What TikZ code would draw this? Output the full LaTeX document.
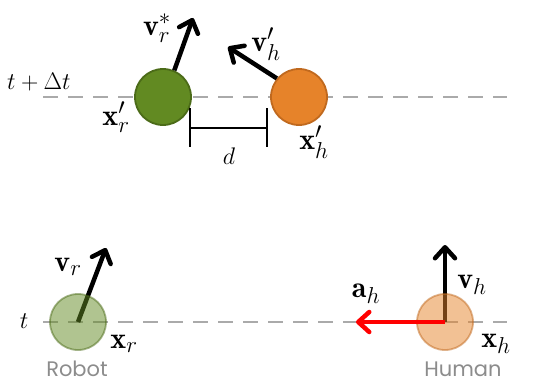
\documentclass[tikz,border=0pt]{standalone}
\usepackage{fix-cm}
\usepackage{fontspec}
\usepackage{amsmath}
\newfontfamily\labelfont{Poppins}
\DeclareMathSizes{30}{30}{23}{18}
\DeclareMathSizes{24}{24}{18}{14}
\usetikzlibrary{arrows.meta}
\definecolor{gdark}{HTML}{628A22}
\definecolor{gedge}{HTML}{4B6B18}
\definecolor{odark}{HTML}{E6832A}
\definecolor{oedge}{HTML}{C0691E}
\definecolor{dashgray}{HTML}{AAAAAA}
\definecolor{txtgray}{HTML}{8C8C8C}
\tikzset{
  timeline/.style={draw=dashgray, line width=2.5pt, dash pattern=on 15pt off 10pt},
  vel/.style={draw=black, line width=4.5pt, -{Straight Barb[length=11pt,width=20pt,line width=4.5pt,round]}},
  acc/.style={draw=red, line width=4.5pt, -{Straight Barb[length=11pt,width=20pt,line width=4.5pt,round]}},
  agent/.style={circle, minimum size=56pt, inner sep=0pt, line width=1.8pt},
  lbl/.style={font=\fontsize{30}{32}\selectfont, inner sep=0pt},
  tlbl/.style={font=\fontsize{24}{26}\selectfont, inner sep=0pt},
  who/.style={font=\labelfont\fontsize{21}{24}\selectfont, text=txtgray, inner sep=0pt},
  bracket/.style={draw=black, line width=2.8pt}
}
\begin{document}
\begin{tikzpicture}[x=1pt,y=-1pt]
\useasboundingbox (0,0) rectangle (534,385);
% top time line
\coordinate (tl1) at (43,97);
\coordinate (tl2) at (507,97);
\draw[timeline] (tl1) -- (tl2);
\node[tlbl, anchor=west] (tlab) at (7,82) {$t+\Delta t$};
% top agents
\node[agent, fill=gdark, draw=gedge] (gr) at (163,97) {};
\node[agent, fill=odark, draw=oedge] (oh) at (299,97) {};
\coordinate (vrs) at (193,18);
\coordinate (vhp) at (228,47);
\draw[vel] (gr.67) -- (vrs);
\draw[vel] (oh.140) -- (vhp);
\node[lbl] (vrslab) at (157,28) {$\mathbf{v}_r^{*}$};
\node[lbl] (vhplab) at (266,44) {$\mathbf{v}_h'$};
\node[lbl] (xrplab) at (116,117) {$\mathbf{x}_r'$};
\node[lbl] (xhplab) at (314,142) {$\mathbf{x}_h'$};
% distance bracket
\coordinate (b1t) at (190,108);
\coordinate (b1b) at (190,147);
\coordinate (b2t) at (267,108);
\coordinate (b2b) at (267,147);
\coordinate (b1m) at (190,128);
\coordinate (b2m) at (267,128);
\draw[bracket] (b1t) -- (b1b);
\draw[bracket] (b2t) -- (b2b);
\draw[bracket] (b1m) -- (b2m);
\node[tlbl] (dlab) at (229,156) {$d$};
% bottom time line
\coordinate (bl1) at (43,322);
\coordinate (bl2) at (507,322);
\draw[timeline] (bl1) -- (bl2);
\node[tlbl] (tb) at (24,321) {$t$};
% bottom agents
\coordinate (rc) at (78,322);
\coordinate (hc) at (445,322);
\coordinate (vr) at (106,248);
\coordinate (vh) at (445,245);
\coordinate (ah) at (356,322);
\draw[vel] (rc) -- (vr);
\draw[vel] (hc) -- (vh);
\node[agent, fill=gdark, draw=gedge, opacity=0.5] (rob) at (rc) {};
\node[agent, fill=odark, draw=oedge, opacity=0.5] (hum) at (hc) {};
\draw[acc] (hum.center) -- (ah);
\node[lbl] (vrlab) at (68,267) {$\mathbf{v}_r$};
\node[lbl] (xrlab) at (124,344) {$\mathbf{x}_r$};
\node[lbl] (ahlab) at (366,294) {$\mathbf{a}_h$};
\node[lbl] (vhlab) at (472,285) {$\mathbf{v}_h$};
\node[lbl] (xhlab) at (496,344) {$\mathbf{x}_h$};
\node[who] (robot) at (77,369) {Robot};
\node[who] (human) at (463,369) {Human};
\end{tikzpicture}
\end{document}
